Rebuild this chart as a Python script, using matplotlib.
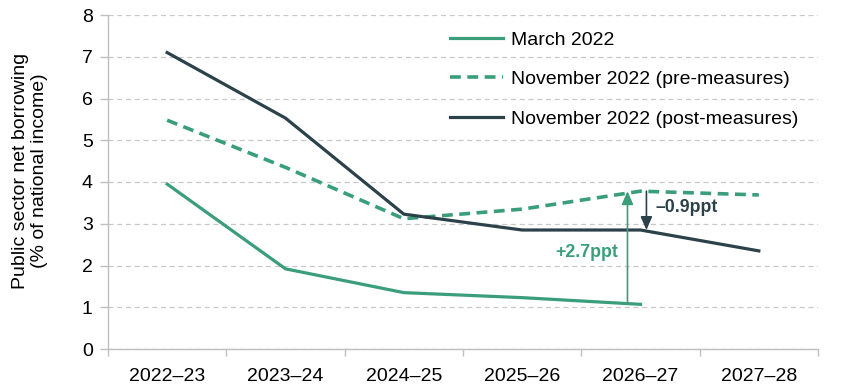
import matplotlib
matplotlib.use("Agg")
import matplotlib.pyplot as plt
import numpy as np

plt.rcParams['font.family'] = ['Liberation Sans', 'DejaVu Sans']

years = ["2022–23", "2023–24", "2024–25", "2025–26", "2026–27", "2027–28"]
march_2022 = [3.95, 1.92, 1.35, 1.23, 1.07]
nov_pre = [5.48, 4.35, 3.12, 3.35, 3.78, 3.69]
nov_post = [7.1, 5.53, 3.23, 2.85, 2.85, 2.35]

green = "#3a9e7b"
dark = "#2c424b"
grey = "#bfbfbf"

fig = plt.figure(figsize=(8.48, 3.88), dpi=100)
ax = fig.add_axes([108/848, 39/388, 710/848, 334/388])

x = np.arange(len(years))
ax.plot(x[:len(march_2022)], march_2022, color=green, lw=2.3, label="March 2022")
ax.plot(x, nov_pre, color=green, lw=2.6, ls=(0, (3, 1.8)), label="November 2022 (pre-measures)")
ax.plot(x, nov_post, color=dark, lw=2.3, label="November 2022 (post-measures)")

ax.set_xlim(-0.5, len(years) - 0.5)
ax.set_ylim(0, 8)
ax.set_yticks(range(0, 9))
ax.set_xticks(x)
ax.set_xticklabels(years, fontsize=14)
ax.set_xticks(np.arange(-0.5, len(years)), minor=True)
ax.tick_params(axis='x', which='major', length=0, pad=14)
ax.tick_params(axis='x', which='minor', length=5, color=grey, width=1)
ax.tick_params(axis='y', labelsize=14, length=6, color=grey, width=1, pad=5)
ax.grid(axis='y', color='#c8c8c8', ls=(0, (4, 3)), lw=0.9)
ax.set_axisbelow(True)
for s in ['top', 'right']:
    ax.spines[s].set_visible(False)
for s in ['left', 'bottom']:
    ax.spines[s].set_color(grey)
    ax.spines[s].set_linewidth(1)

fig.text(30/848, 1 - 171/388, "Public sector net borrowing\n(% of national income)", fontsize=14,
         rotation=90, ha='center', va='center', multialignment='center', linespacing=1.2)

# Annotations
i = 4
ax.annotate("", xy=(i - 0.11, nov_pre[i]), xytext=(i - 0.11, march_2022[i]),
            arrowprops=dict(arrowstyle="-|>,head_width=0.35,head_length=0.8", color=green, lw=1.2,
                            shrinkA=0, shrinkB=0))
ax.text(i - 0.19, 2.32, "+2.7ppt", color=green, fontsize=12.8, fontweight='bold', ha='right', va='center')
ax.annotate("", xy=(i + 0.05, nov_post[i]), xytext=(i + 0.05, nov_pre[i]),
            arrowprops=dict(arrowstyle="-|>,head_width=0.35,head_length=0.8", color=dark, lw=1.2,
                            shrinkA=0, shrinkB=0))
ax.text(i + 0.13, 3.4, "–0.9ppt", color=dark, fontsize=12.8, fontweight='bold', ha='left', va='center')

leg = ax.legend(loc='upper left', bbox_to_anchor=(450/848, 1 - 31/388), bbox_transform=fig.transFigure,
                frameon=False, fontsize=14, labelspacing=1.13, handlelength=2.7, handletextpad=0.45,
                borderaxespad=0, borderpad=0)

fig.savefig("out.png", dpi=100)
